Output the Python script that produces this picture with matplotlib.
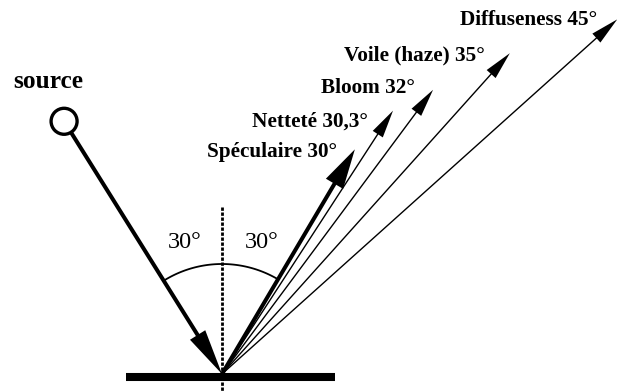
import numpy as np
import matplotlib
matplotlib.use("Agg")
import matplotlib.pyplot as plt
from matplotlib.patches import Polygon, Circle

# reflected rays: label, drawn angle from the normal (deg), drawn length (px)
ray_labels = ["Spéculaire 30°", "Netteté 30,3°", "Bloom 32°", "Voile (haze) 35°", "Diffuseness 45°"]
ray_angles = [30.6, 33.0, 36.6, 41.9, 48.1]
ray_lengths = [261, 314, 354, 431, 531]
ray_thick = [True, False, False, False, False]

# incident ray
source_label = "source"
source_angle = -32.0
source_dist = 298

# angle marks
angle_labels = ["30°", "30°"]

# layout (pixels, y downwards)
W, H = 617, 392
origin = np.array([222.0, 374.0])
label_xy = [(337, 157), (368, 127), (415, 93), (485, 60), (597, 25)]
angle_label_xy = [(185, 248), (262, 248)]
arc_r = 110


def ray_point(angle, length):
    a = np.radians(angle)
    return origin + length * np.array([np.sin(a), -np.cos(a)])


def arrow(ax, start, end, lw, head_len, head_w):
    start = np.asarray(start, float)
    end = np.asarray(end, float)
    u = (end - start) / np.linalg.norm(end - start)
    n = np.array([-u[1], u[0]])
    base = end - head_len * u
    stop = end - 0.6 * head_len * u
    ax.plot([start[0], stop[0]], [start[1], stop[1]], color="black", lw=lw,
            solid_capstyle="butt")
    ax.add_patch(Polygon([end, base + n * head_w / 2, base - n * head_w / 2],
                         closed=True, color="black", lw=0))


fig = plt.figure(figsize=(W / 100, H / 100), dpi=100)
ax = fig.add_axes([0, 0, 1, 1])
ax.set_xlim(0, W)
ax.set_ylim(H, 0)
ax.set_aspect("equal")
ax.axis("off")

serif = ["Liberation Serif", "DejaVu Serif"]

# surface
ax.plot([126, 335], [origin[1] + 3, origin[1] + 3], color="black", lw=5.8,
        solid_capstyle="butt")

# normal
ax.plot([origin[0], origin[0]], [207, H], color="black", lw=2.0,
        linestyle=(0, (1.2, 0.6)))

# source
src = ray_point(source_angle, source_dist)
ax.add_patch(Circle(src, 13, fill=False, color="black", lw=2.4))
u = (origin - src) / np.linalg.norm(origin - src)
arrow(ax, src + 14 * u, origin, 2.9, 46, 18)
ax.text(13, 88, source_label, fontsize=18.3, fontweight="bold", family=serif,
        ha="left", va="baseline")

# reflected rays
for ang, length, thick, lab, (lx, ly) in zip(ray_angles, ray_lengths, ray_thick,
                                              ray_labels, label_xy):
    tip = ray_point(ang, length)
    if thick:
        arrow(ax, origin, tip, 2.9, 40, 20)
    else:
        arrow(ax, origin, tip, 1.0, 28, 12)
    ax.text(lx, ly, lab, fontsize=15.3, fontweight="bold", family=serif,
            ha="right", va="baseline")

# angle arc between incident and specular rays
t = np.linspace(source_angle, ray_angles[0], 80)
arc = np.array([ray_point(a, arc_r) for a in t])
ax.plot(arc[:, 0], arc[:, 1], color="black", lw=1.3)

for lab, (x, y) in zip(angle_labels, angle_label_xy):
    ax.text(x, y, lab, fontsize=17.5, family=serif, ha="center", va="baseline")

fig.savefig("out.png", dpi=100)
